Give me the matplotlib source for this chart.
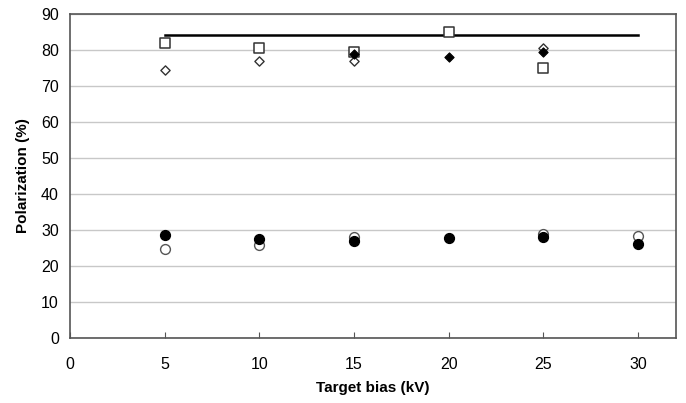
import matplotlib
matplotlib.use("Agg")
import matplotlib.pyplot as plt

plt.rcParams['font.family'] = ['Liberation Sans', 'DejaVu Sans']

# open squares
sq_x = [5, 10, 15, 20, 25]
sq_y = [82, 80.5, 79.5, 85, 75]
# open diamonds
od_x = [5, 10, 15, 25]
od_y = [74.5, 77, 77, 80.5]
# filled diamonds
fd_x = [15, 20, 25]
fd_y = [79, 78, 79.5]
# filled circles
fc_x = [5, 10, 15, 20, 25, 30]
fc_y = [28.6, 27.4, 26.9, 27.7, 28.1, 26.1]
# open circles
oc_x = [5, 10, 15, 25, 30]
oc_y = [24.6, 25.8, 28.1, 28.9, 28.3]
# reference line
line_x = [5, 30]
line_y = [84.2, 84.2]

fig = plt.figure(figsize=(6.86, 4.03), dpi=100)
ax = fig.add_axes([70/686, 1-338/403, 606/686, 324/403])

ax.plot(line_x, line_y, color='black', lw=1.8, zorder=2)
ax.scatter(sq_x, sq_y, marker='s', s=42, facecolors='white', edgecolors='#333333', linewidths=1.1, zorder=3)
ax.scatter(od_x, od_y, marker='D', s=22, facecolors='white', edgecolors='#333333', linewidths=1.0, zorder=3)
ax.scatter(fd_x, fd_y, marker='D', s=22, facecolors='black', edgecolors='black', linewidths=0.8, zorder=4)
ax.scatter(oc_x, oc_y, marker='o', s=50, facecolors='white', edgecolors='#555555', linewidths=1.0, zorder=3)
ax.scatter(fc_x, fc_y, marker='o', s=50, facecolors='black', edgecolors='black', zorder=4)

ax.set_xlim(0, 32)
ax.set_ylim(0, 90)
ax.set_xticks(range(0, 31, 5))
ax.set_yticks(range(0, 91, 10))
ax.yaxis.grid(True, color='#c8c8c8', lw=1.0)
ax.set_axisbelow(True)
ax.tick_params(axis='x', direction='in', length=4, color='#555555', labelsize=11.5, pad=14)
ax.tick_params(axis='y', length=0, labelsize=11.5, pad=8)
for s in ax.spines.values():
    s.set_color('#555555')
    s.set_linewidth(1.2)

ax.set_xlabel('Target bias (kV)', fontsize=11, fontweight='bold', labelpad=6)
ax.set_ylabel('Polarization (%)', fontsize=11, fontweight='bold', labelpad=8)

fig.savefig('out.png', dpi=100)
